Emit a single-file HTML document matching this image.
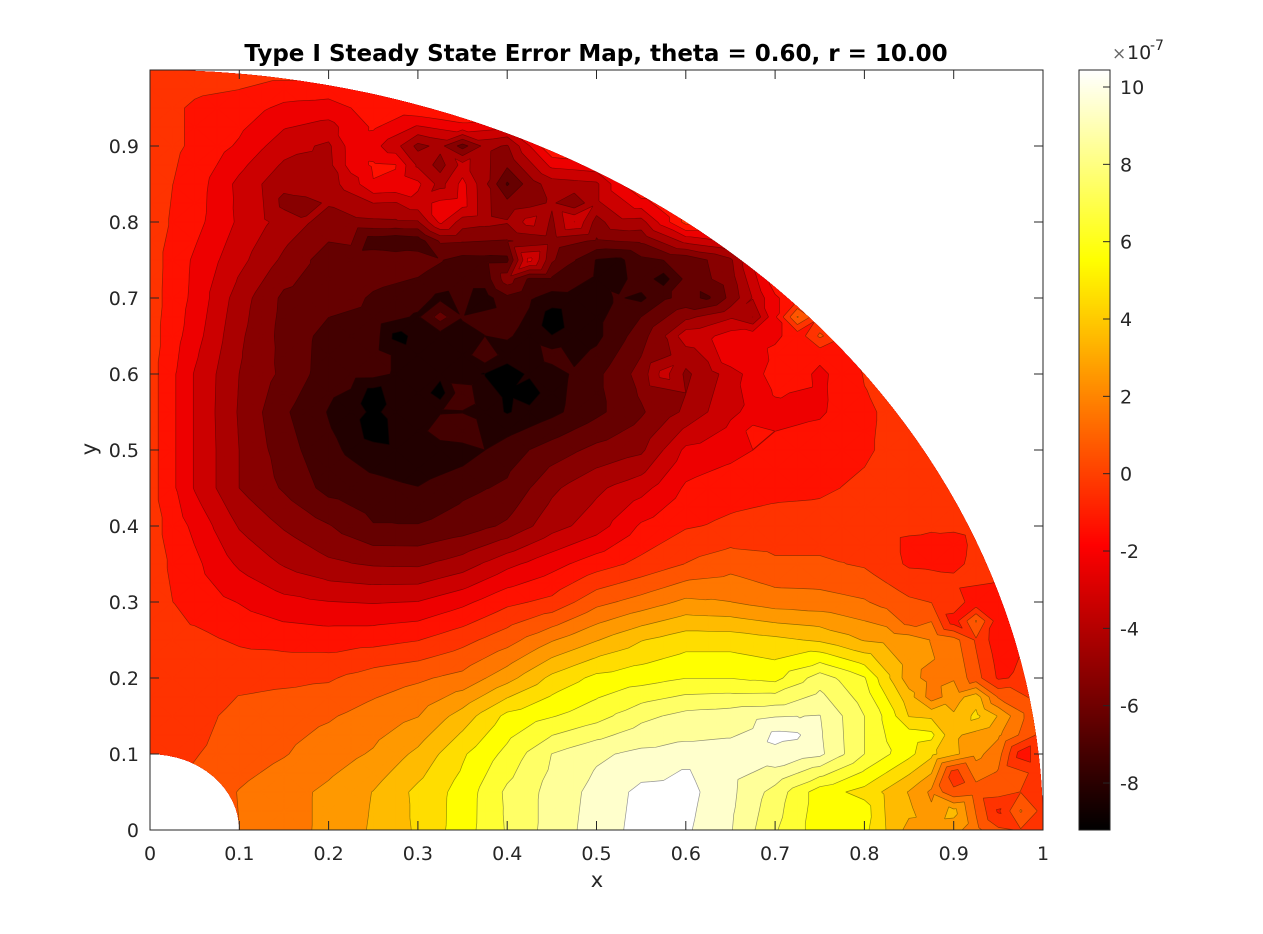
<!DOCTYPE html>
<html>
<head>
<meta charset="utf-8">
<title>Type I Steady State Error Map</title>
<style>
html,body{margin:0;padding:0;background:#fff;width:1263px;height:934px;overflow:hidden}
svg{display:block}
text{font-family:"DejaVu Sans","Liberation Sans",sans-serif;fill:#262626}
</style>
</head>
<body>
<svg id="fig" width="1263" height="934" viewBox="0 0 1263 934" xmlns="http://www.w3.org/2000/svg">
<defs><clipPath id="domain"><path id="domainPath"></path></clipPath></defs>
<g id="bands" clip-path="url(#domain)"></g>
<g id="axes"></g>
<g id="cbar"></g>
<text x="596" y="61" text-anchor="middle" font-size="23" font-weight="bold" style="fill:#000">Type I Steady State Error Map, theta = 0.60, r = 10.00</text>
<text x="597" y="887" text-anchor="middle" font-size="21">x</text>
<text transform="translate(96,449) rotate(-90)" text-anchor="middle" font-size="21">y</text>
<g>
<text x="1112" y="59" font-size="17" style="fill:#666">×</text>
<text x="1127" y="59" font-size="19">10</text>
<text x="1150" y="50" font-size="14">-7</text>
</g>
</svg>
<script>
// grid coordinates of the sampled error field
const xValues = [0,.05,.1,.15,.2,.25,.3,.35,.4,.45,.5,.55,.6,.65,.7,.75,.8,.85,.9,.95,1];
const yValues = [0,.05,.1,.15,.2,.25,.3,.35,.4,.45,.5,.55,.6,.65,.7,.75,.8,.85,.9,.95,1];
// error in units of 1e-7; one row per yValue, one column per xValue
const errorGrid = [
/*0.00*/[-.5,.3,1.1,1.65,2.35,3.2,4.2,5.55,7.1,8.4,9.4,10.3,10.1,9.05,7.1,5.5,5.3,2.7,2.5,.3,-.2],
/*0.05*/[-.4,.4,1.15,1.7,2.3,3.1,4.3,5.4,7.2,8.3,9.3,10.2,10.3,9.2,7.6,5.5,4.7,3,.8,.5,-.3],
/*0.10*/[-.4,.06,.6,1.04,1.6,2.2,3.3,4.9,6.3,8,8.8,9.2,9.3,9.3,9.7,9.2,7,5.3,3.3,1.5,-.3],
/*0.15*/[-.4,-.3,.5,.7,1,1.5,2.05,3.5,5.3,5.95,6.6,7.7,8.3,8.5,8.9,9,7,4.5,3.2,3,-.3],
/*0.20*/[-.4,-.4,-.2,-.1,0,.6,.95,1.4,2.7,4.3,5.3,5.6,6,6,5.7,7.5,6.1,2.5,2,-1,-.4],
/*0.25*/[-.4,-.6,-1,-1.2,-1.3,-1.2,-.9,-.2,.7,2,3,4,4.6,4.6,4.3,3.9,3,2.6,1.5,-1.5,-.4],
/*0.30*/[-.4,-1.3,-1.89,-2.55,-2.8,-2.9,-2.8,-2.1,-1.1,-.6,.8,1.5,2.3,2.1,1.6,1.5,1.2,.3,-.1,-1.4,-.4],
/*0.35*/[-.4,-1.6,-3,-3.9,-4.6,-4.9,-4.95,-4.3,-3.1,-2.2,-1.3,-.6,.15,.75,.3,.3,0,-1,-1.1,-.4,-.4],
/*0.40*/[-.4,-2.1,-3.9,-4.9,-5.7,-6.7,-6.7,-6.3,-5.6,-4.2,-3.3,-1.7,-.95,-.7,-.5,-.5,-.4,-.6,-.7,-.4,-.4],
/*0.45*/[-.4,-2.9,-4.8,-5.9,-7.1,-7.4,-7.7,-7,-6.6,-5,-4,-3.2,-1.7,-1.2,-1.1,-1,-.7,-.4,-.3,-.4,-.4],
/*0.50*/[-.4,-2.9,-4.8,-6.3,-7.5,-8.3,-8.7,-8.3,-7.2,-6.3,-5.5,-5,-2.6,-2.2,-1.5,-1.2,-1,-.4,-.4,-.4,-.4],
/*0.55*/[-.4,-2.9,-4.9,-6.6,-7.8,-8.9,-7.9,-7.8,-8.8,-8,-7,-5.9,-4.6,-3,-2.2,-2,-1,-.5,-.4,-.4,-.4],
/*0.60*/[-.4,-2.9,-4.8,-6,-7.3,-7.4,-8.3,-8.6,-8.9,-8.2,-7,-5.4,-5,-3.4,-1.3,-2.1,-.8,-.4,-.4,-.4,-.4],
/*0.65*/[-.4,-2.4,-4.6,-6.1,-7.1,-7.2,-8.5,-7.9,-7.6,-8.7,-8,-6.2,-3.6,-2.4,-2,-1,-.4,-.4,-.4,-.4,-.4],
/*0.70*/[-.4,-2.1,-4.3,-6,-6.4,-6.9,-7.3,-7.5,-7,-8.2,-8,-7.3,-6.5,-5.5,-2,-.4,-.4,-.4,-.4,-.4,-.4],
/*0.75*/[-.4,-2,-3.5,-5,-6.3,-6.1,-6.3,-7.1,-7,-5.6,-7.8,-7,-6.5,-5,-.4,-.4,-.4,-.4,-.4,-.4,-.4],
/*0.80*/[-.4,-1.5,-3,-4.2,-5.2,-5,-4.9,-4.3,-4.7,-5,-4,-4.2,-.5,-.4,-.4,-.4,-.4,-.4,-.4,-.4,-.4],
/*0.85*/[-.4,-1.3,-3.1,-4.5,-4.2,-2.6,-3,-2.8,-6.3,-4.3,-4,-.4,-.4,-.4,-.4,-.4,-.4,-.4,-.4,-.4,-.4],
/*0.90*/[-.4,-1,-2,-3.4,-4,-2,-4.9,-4.1,-4.9,-.8,-.4,-.4,-.4,-.4,-.4,-.4,-.4,-.4,-.4,-.4,-.4],
/*0.95*/[-.4,-1,-1.3,-2.1,-2.3,-1.4,-1,-.4,-.4,-.4,-.4,-.4,-.4,-.4,-.4,-.4,-.4,-.4,-.4,-.4,-.4],
/*1.00*/[-.4,-.4,-.4,-.4,-.4,-.4,-.4,-.4,-.4,-.4,-.4,-.4,-.4,-.4,-.4,-.4,-.4,-.4,-.4,-.4,-.4]
];
// local patches, on half-step grid nodes
const spotX = [.225,.25,.275,.125,.075,.15,.175,.3,.325,.4,.35,.35,.325,.425,.475,.425,.4,.25,.275,.3,.375,.325,.375,.275,.45,.325,.225,.375,.325,.425,.4,.35,.325,.35,.25,.25,.45,.425,.475,.5,.525,.525,.55,.575,.625,.675,.725,.75,.725,.6,.575,.6,.65,.675,.7,.725,.6,.9,.9,.975,.95,.975,.925,.875,.875,.85,.875,.95,.925,.9,.925,.85,.925,.85,.9,.85,.8,.225,.275,.25,.275,.25,.3,.3,.325,.35,.3,.325,.85,.875,.9,.925];
const spotY = [.9,.875,.85,.875,.925,.825,.825,.9,.875,.85,.9,.85,.8,.8,.8,.75,.725,.775,.775,.775,.725,.7,.7,.65,.675,.675,.7,.625,.575,.575,.6,.575,.525,.525,.525,.575,.625,.825,.825,.8,.75,.725,.7,.725,.7,.675,.675,.65,.6,.6,.6,.65,.625,.525,.125,.125,.075,.075,.05,.1,.025,.025,.175,.175,.2,.125,.125,.225,.3,.275,.275,.275,.15,.15,.025,.025,.025,.875,.875,.85,.85,.9,.85,.825,.825,.825,.875,.85,.375,.375,.375,.35];
const spotValue = [-2.4,-1.7,-2.3,-3.3,-1.3,-5.1,-5,-5.1,-5.2,-6.9,-6.2,-2.5,-2.6,-3.4,-2.8,-2.5,-5.2,-7.3,-7.5,-7.3,-7.3,-8,-8.2,-9,-9.2,-6.3,-6.5,-7,-9.2,-9.3,-9.3,-7,-7,-6.8,-9.3,-9.2,-7.3,-5.2,-5.5,-5.2,-8,-8.1,-8,-8.2,-6.9,-4.8,1.2,.3,-1.4,-5,-3.4,-3.2,-1.9,-1.5,10.2,10.1,10.1,-.4,.3,-1.3,-1,1.2,3.6,1.6,1.7,5.5,5.3,-1.2,-1.6,-1.4,1.2,.7,4.3,4,3.4,3.3,5.5,-2.4,-1.8,-1.9,-2,-2.5,-2.6,-3.2,-2.6,-2.4,-4,-4.2,-1.1,-1.3,-1.2,-.6];
const xTickValues = [0,.1,.2,.3,.4,.5,.6,.7,.8,.9,1];
const xTickLabels = ['0','0.1','0.2','0.3','0.4','0.5','0.6','0.7','0.8','0.9','1'];
const yTickValues = [0,.1,.2,.3,.4,.5,.6,.7,.8,.9];
const yTickLabels = ['0','0.1','0.2','0.3','0.4','0.5','0.6','0.7','0.8','0.9'];
const cbarTickValues = [-8,-6,-4,-2,0,2,4,6,8,10];
const cbarTickLabels = ['-8','-6','-4','-2','0','2','4','6','8','10'];
const colorMin = -9.215;
const colorMax = 10.44;
const bandCount = 21;

const NS = 'http://www.w3.org/2000/svg';
const plot = {l:150, r:1043, t:70, b:830};
const bar = {l:1079, r:1110, t:70, b:830};
const sx = v => plot.l + v * (plot.r - plot.l);
const sy = v => plot.b - v * (plot.b - plot.t);
const sc = v => bar.b - (v - colorMin) / (colorMax - colorMin) * (bar.b - bar.t);
function hot(t){
  t = Math.max(0, Math.min(1, t));
  const r = Math.min(1, t / .375), g = Math.max(0, Math.min(1, (t - .375) / .375)), b = Math.max(0, (t - .75) / .25);
  return 'rgb(' + Math.round(r * 255) + ',' + Math.round(g * 255) + ',' + Math.round(b * 255) + ')';
}
function mk(tag, attrs, parent){
  const e = document.createElementNS(NS, tag);
  for (const k in attrs) e.setAttribute(k, attrs[k]);
  parent.appendChild(e);
  return e;
}
const rx = plot.r - plot.l, ry = plot.b - plot.t;
document.getElementById('domainPath').setAttribute('d',
  'M' + sx(.1) + ' ' + sy(0) + 'L' + sx(1) + ' ' + sy(0) +
  'A' + rx + ' ' + ry + ' 0 0 0 ' + sx(0) + ' ' + sy(1) +
  'L' + sx(0) + ' ' + sy(.1) +
  'A' + (rx * .1) + ' ' + (ry * .1) + ' 0 0 1 ' + sx(.1) + ' ' + sy(0) + 'Z');

// refine the sampled grid to half steps so local patches can be placed on it
const nx = xValues.length * 2 - 1, ny = yValues.length * 2 - 1;
const fineX = [], fineY = [], fine = [];
for (let i = 0; i < nx; i++) fineX.push(i % 2 ? (xValues[(i - 1) / 2] + xValues[(i + 1) / 2]) / 2 : xValues[i / 2]);
for (let j = 0; j < ny; j++) fineY.push(j % 2 ? (yValues[(j - 1) / 2] + yValues[(j + 1) / 2]) / 2 : yValues[j / 2]);
for (let j = 0; j < ny; j++) {
  const row = [];
  const j0 = Math.floor(j / 2), j1 = Math.ceil(j / 2);
  for (let i = 0; i < nx; i++) {
    const i0 = Math.floor(i / 2), i1 = Math.ceil(i / 2);
    row.push((errorGrid[j0][i0] + errorGrid[j0][i1] + errorGrid[j1][i0] + errorGrid[j1][i1]) / 4);
  }
  fine.push(row);
}
spotValue.forEach((v, s) => {
  const i = Math.round(spotX[s] / .025), j = Math.round(spotY[s] / .025);
  fine[j][i] = v;
});

// filled contour bands by clipping grid triangles at each level
const bandStep = (colorMax - colorMin) / (bandCount - 1);
const bandsG = document.getElementById('bands');
const f1 = n => n.toFixed(1);
for (let k = 0; k < bandCount; k++) {
  const level = k === 0 ? -Infinity : colorMin + (k - .5) * bandStep;
  let fill = '', line = '';
  const tri = (a, b, c) => {
    const pts = [a, b, c], poly = [], cuts = [];
    for (let i = 0; i < 3; i++) {
      const p = pts[i], q = pts[(i + 1) % 3];
      if (p[2] >= level) poly.push(p);
      if ((p[2] >= level) !== (q[2] >= level)) {
        const u = (level - p[2]) / (q[2] - p[2]);
        const m = [p[0] + u * (q[0] - p[0]), p[1] + u * (q[1] - p[1]), level];
        poly.push(m); cuts.push(m);
      }
    }
    if (poly.length > 2) fill += 'M' + poly.map(p => f1(sx(p[0])) + ' ' + f1(sy(p[1]))).join('L') + 'Z';
    if (cuts.length === 2) line += 'M' + f1(sx(cuts[0][0])) + ' ' + f1(sy(cuts[0][1])) + 'L' + f1(sx(cuts[1][0])) + ' ' + f1(sy(cuts[1][1]));
  };
  for (let j = 0; j < ny - 1; j++) for (let i = 0; i < nx - 1; i++) {
    const A = [fineX[i], fineY[j], fine[j][i]];
    const B = [fineX[i + 1], fineY[j], fine[j][i + 1]];
    const C = [fineX[i + 1], fineY[j + 1], fine[j + 1][i + 1]];
    const D = [fineX[i], fineY[j + 1], fine[j + 1][i]];
    if ((i + j) % 2) { tri(A, B, C); tri(A, C, D); } else { tri(A, B, D); tri(B, C, D); }
  }
  const col = hot(k / (bandCount - 1));
  const band = mk('path', {d: fill, fill: col, stroke: col, 'stroke-width': .6}, bandsG);
  
  
  if (line) {
    const cl = mk('path', {d: line, fill: 'none', stroke: '#000', 'stroke-width': .7, 'stroke-opacity': .42}, bandsG);
    
    
  }
}

// main axes
const axesG = document.getElementById('axes');
const box = mk('rect', {x: plot.l, y: plot.t, width: rx, height: ry, fill: 'none', stroke: '#262626', 'stroke-width': 1}, axesG);


xTickValues.forEach((v, i) => {
  const x = sx(v);
  const t = mk('path', {d: 'M' + x + ' ' + plot.b + 'v-9M' + x + ' ' + plot.t + 'v9', stroke: '#262626', 'stroke-width': 1, fill: 'none'}, axesG);
  
  
  const l = mk('text', {x: x, y: 860, 'text-anchor': 'middle', 'font-size': 19}, axesG);
  l.textContent = xTickLabels[i];
  
  
});
yTickValues.forEach((v, i) => {
  const y = sy(v);
  const t = mk('path', {d: 'M' + plot.l + ' ' + y + 'h9M' + plot.r + ' ' + y + 'h-9', stroke: '#262626', 'stroke-width': 1, fill: 'none'}, axesG);
  
  
  const l = mk('text', {x: 139, y: y + 7, 'text-anchor': 'end', 'font-size': 19}, axesG);
  l.textContent = yTickLabels[i];
  
  
});

// colorbar
const cbarG = document.getElementById('cbar');
const barH = bar.b - bar.t;
for (let p = 0; p < barH; p += 2) {
  const s = mk('rect', {x: bar.l, y: bar.t + p, width: bar.r - bar.l, height: 2.4, fill: hot(1 - (p + 1) / barH)}, cbarG);
  
  
}
const cbox = mk('rect', {x: bar.l, y: bar.t, width: bar.r - bar.l, height: barH, fill: 'none', stroke: '#262626', 'stroke-width': 1}, cbarG);


cbarTickValues.forEach((v, i) => {
  const y = sc(v);
  const t = mk('path', {d: 'M' + bar.r + ' ' + y + 'h-7', stroke: '#262626', 'stroke-width': 1, fill: 'none'}, cbarG);
  
  
  const l = mk('text', {x: 1120, y: y + 7, 'font-size': 19}, cbarG);
  l.textContent = cbarTickLabels[i];
  
  
});
</script>
</body>
</html>
